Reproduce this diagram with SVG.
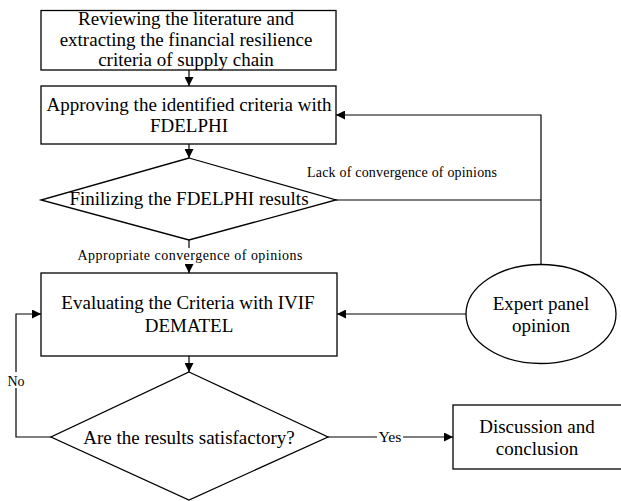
<svg xmlns="http://www.w3.org/2000/svg" width="621" height="501" viewBox="0 0 621 501">
<defs>
<marker id="arr" viewBox="0 0 10 10" refX="10" refY="5" markerWidth="9" markerHeight="9" markerUnits="userSpaceOnUse" orient="auto">
<path d="M0,0 L10,5 L0,10 z" fill="#000"/>
</marker>
<style>
.s{fill:#fff;stroke:#000;stroke-width:1.3}
.t{font-family:"Liberation Serif","Times New Roman",serif;font-size:19px;fill:#000;text-anchor:middle}
.l{font-family:"Liberation Serif","Times New Roman",serif;font-size:14px;fill:#000;text-anchor:middle}
.c{fill:none;stroke:#000;stroke-width:1.2}
</style>
</defs>
<rect width="621" height="501" fill="#fff"/>
<g id="connectors">
<line class="c" x1="189" y1="70" x2="189" y2="86" marker-end="url(#arr)"/>
<line class="c" x1="189" y1="144" x2="189" y2="158" marker-end="url(#arr)"/>
<line class="c" x1="189" y1="240" x2="189" y2="273" marker-end="url(#arr)"/>
<polyline class="c" points="336,200 541,200"/>
<polyline class="c" points="541,265 541,115 336,115" marker-end="url(#arr)"/>
<line class="c" x1="466" y1="314" x2="337" y2="314" marker-end="url(#arr)"/>
<line class="c" x1="189" y1="356" x2="189" y2="372" marker-end="url(#arr)"/>
<polyline class="c" points="51,437 16,437 16,314 41,314" marker-end="url(#arr)"/>
<line class="c" x1="328" y1="437" x2="453" y2="437" marker-end="url(#arr)"/>
<rect x="76" y="248" width="228" height="16" fill="#fff"/>
<text class="l" x="190" y="260" font-size="13.5" textLength="225" lengthAdjust="spacing">Appropriate convergence of opinions</text>
<text class="l" x="402" y="177" textLength="190" lengthAdjust="spacing">Lack of convergence of opinions</text>
<rect x="6" y="372" width="22" height="16" fill="#fff"/>
<text class="l" x="16" y="386">No</text>
<rect x="377" y="429" width="26" height="15" fill="#fff"/>
<text class="l" x="390" y="442" textLength="23" lengthAdjust="spacingAndGlyphs">Yes</text>
</g>
<g id="n1">
<rect class="s" x="41" y="10.5" width="295" height="59.5"/>
<text class="t" x="186" y="25">Reviewing the literature and</text>
<text class="t" x="186" y="46">extracting the financial resilience</text>
<text class="t" x="186" y="66">criteria of supply chain</text>
</g>
<g id="n2">
<rect class="s" x="41" y="86" width="295" height="58"/>
<text class="t" x="189" y="111">Approving the identified criteria with</text>
<text class="t" x="189" y="132">FDELPHI</text>
</g>
<g id="n3">
<polygon class="s" points="189,158 336,200 189,240 41,200"/>
<text class="t" x="189" y="205">Finilizing the FDELPHI results</text>
</g>
<g id="n4">
<rect class="s" x="41" y="273" width="296" height="83"/>
<text class="t" x="188" y="309">Evaluating the Criteria with IVIF</text>
<text class="t" x="189" y="332">DEMATEL</text>
</g>
<g id="n5">
<ellipse class="s" cx="541" cy="314" rx="75" ry="49.5"/>
<text class="t" x="541" y="310">Expert panel</text>
<text class="t" x="541" y="332">opinion</text>
</g>
<g id="n6">
<polygon class="s" points="189,372 328,437 189,500 51,437"/>
<text class="t" x="189" y="444">Are the results satisfactory?</text>
</g>
<g id="n7">
<rect class="s" x="453" y="405" width="170" height="64"/>
<text class="t" x="537" y="433">Discussion and</text>
<text class="t" x="537" y="455">conclusion</text>
</g>
</svg>
